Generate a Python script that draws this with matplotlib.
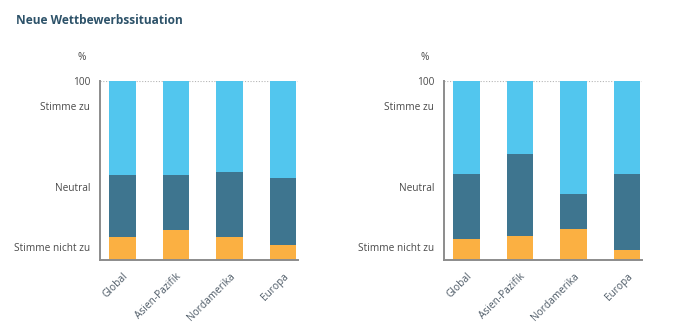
import matplotlib.pyplot as plt

regions = ["Global", "Asien-Pazifik", "Nordamerika", "Europa"]

# Percent shares per region, bottom to top
left_disagree = [13.0, 16.8, 13.0, 8.6]
left_neutral = [34.5, 30.7, 36.2, 37.4]
left_agree = [52.5, 52.5, 50.8, 54.0]

right_disagree = [11.7, 13.6, 17.3, 5.6]
right_neutral = [36.3, 45.6, 19.6, 42.4]
right_agree = [52.0, 40.8, 63.1, 52.0]

ytick_pos = [100, 86.2, 41.0, 7.4]
ytick_labels = ["100", "Stimme zu", "Neutral", "Stimme nicht zu"]

C_DIS = "#FBB042"
C_NEU = "#3E758F"
C_AGR = "#52C6EE"
TXT = "#4a4a4a"
SPINE = "#8c8c8c"

plt.rcParams["font.family"] = ["Open Sans", "DejaVu Sans"]

fig = plt.figure(figsize=(6.98, 3.33), dpi=100)
fig.text(16 / 698, 1 - 21 / 333, "Neue Wettbewerbssituation", fontsize=8.6,
         fontweight="bold", color="#2d5269", va="center", ha="left")


def panel(rect, dis, neu, agr, pct_x):
    ax = fig.add_axes(rect)
    x = range(len(regions))
    w = 0.49
    ax.bar(x, dis, width=w, color=C_DIS, linewidth=0)
    ax.bar(x, neu, width=w, bottom=dis, color=C_NEU, linewidth=0)
    bott = [a + b for a, b in zip(dis, neu)]
    ax.bar(x, agr, width=w, bottom=bott, color=C_AGR, linewidth=0)
    ax.set_xlim(-0.42, 3.28)
    ax.set_ylim(0, 100)
    ax.axhline(100, color="#b5b5b5", lw=0.8, ls=(0, (1, 1.5)), zorder=0)
    for s in ["top", "right"]:
        ax.spines[s].set_visible(False)
    for s in ["left", "bottom"]:
        ax.spines[s].set_color(SPINE)
        ax.spines[s].set_linewidth(1.4)
    ax.set_yticks(ytick_pos)
    ax.set_yticklabels(ytick_labels, fontsize=7.3, color=TXT)
    ax.tick_params(axis="y", length=0, pad=7)
    ax.set_xticks(list(x))
    ax.set_xticklabels(regions, fontsize=7.3, color="#4d5a66", rotation=45,
                       ha="right", va="top", rotation_mode="anchor")
    ax.tick_params(axis="x", length=0, pad=8)
    fig.text(pct_x / 698, 1 - 58 / 333, "%", fontsize=7.3, color=TXT,
             ha="center", va="center")
    return ax


panel([100 / 698, 73 / 333, 198 / 698, 179 / 333],
      left_disagree, left_neutral, left_agree, 82)
panel([444 / 698, 73 / 333, 198 / 698, 179 / 333],
      right_disagree, right_neutral, right_agree, 425)

fig.savefig("out.png", dpi=100)
